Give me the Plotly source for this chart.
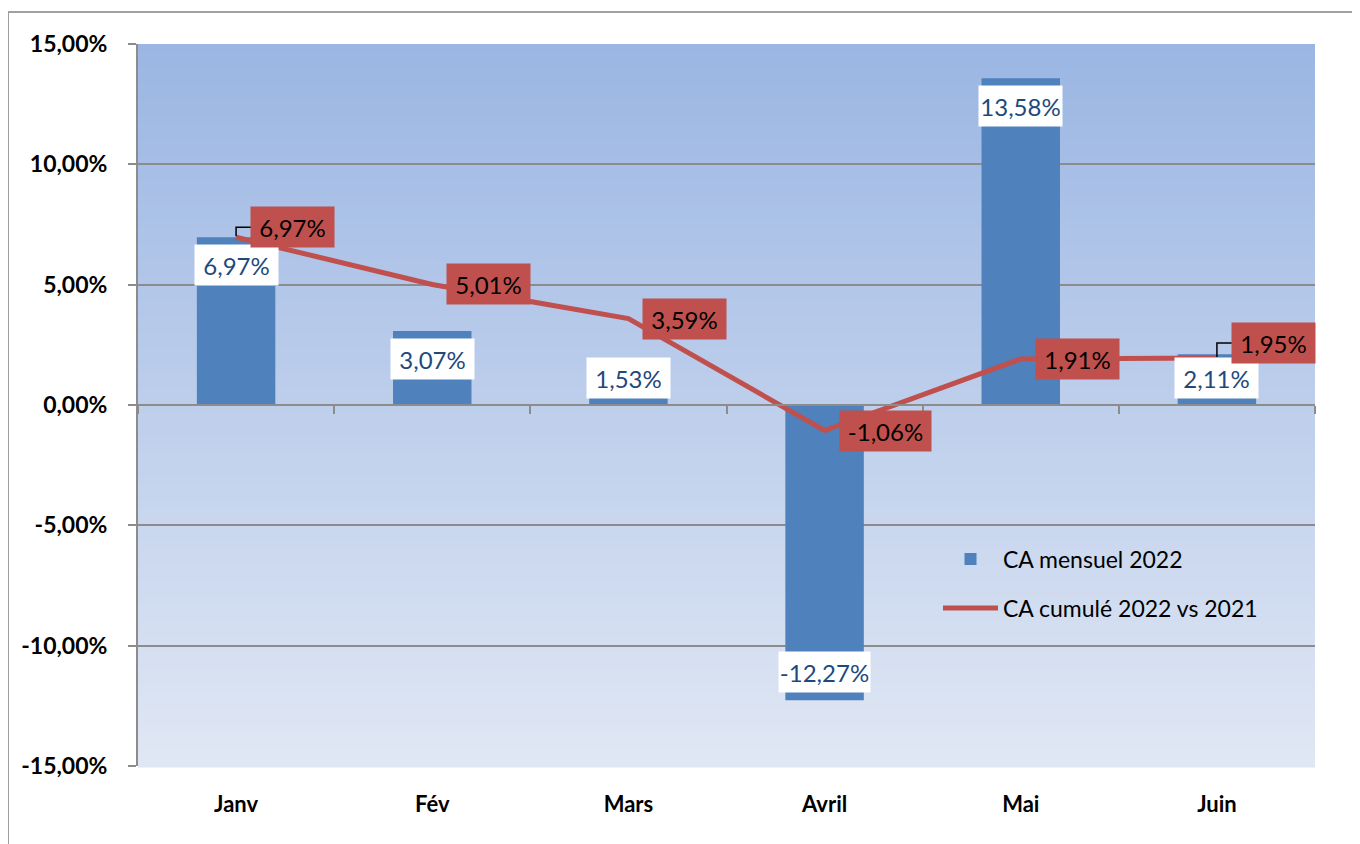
import plotly.graph_objects as go

# ---------------- data ----------------
months = ["Janv", "Fév", "Mars", "Avril", "Mai", "Juin"]
ca_mensuel_2022 = [0.0697, 0.0307, 0.0153, -0.1227, 0.1358, 0.0211]
ca_cumule_2022_vs_2021 = [0.0697, 0.0501, 0.0359, -0.0106, 0.0191, 0.0195]
y_ticks = [-0.15, -0.10, -0.05, 0.0, 0.05, 0.10, 0.15]

# ---------------- style ----------------
W, H = 1360, 844
OFF = 8  # page body margin
ML, MT = 138 - OFF, 44 - OFF
PR, PB = 1315 - OFF, 766 - OFF          # right / bottom edge of plot area in figure px
MR, MB = W - PR, H - PB
PW, PH = W - ML - MR, H - MT - MB
YMIN, YMAX = -0.15, 0.15
PX_PER_UNIT = PH / (YMAX - YMIN)

BAR_COLOR = "#4F81BD"
LINE_COLOR = "#C0504D"
GRID_COLOR = "#8C8C8C"
BAR_TEXT = "#1F497D"
FONT = "Lato"
line_label_dy = [10, 0, 0, 0, 0, 15]  # upward pixel nudges for cumulated labels


def fmt(v):
    return f"{v*100:.2f}%".replace(".", ",")


fig = go.Figure()

fig.add_trace(go.Bar(
    x=months, y=ca_mensuel_2022, name="CA mensuel 2022",
    marker=dict(color=BAR_COLOR, line=dict(width=0)),
    width=0.4, legend="legend", hoverinfo="skip",
))
fig.add_trace(go.Scatter(
    x=months, y=ca_cumule_2022_vs_2021, name="CA cumulé 2022 vs 2021",
    mode="lines", line=dict(color=LINE_COLOR, width=5),
    xaxis="x2", legend="legend2", hoverinfo="skip",
))

# gradient background (plot area)
top = (155, 182, 227)
bot = (224, 231, 244)
N = 90
shapes = []
for k in range(N):
    t = k / (N - 1)
    c = tuple(round(top[j] + (bot[j] - top[j]) * t) for j in range(3))
    shapes.append(dict(
        type="rect", xref="paper", yref="paper",
        x0=0, x1=1, y1=1 - k / N, y0=1 - (k + 1) / N - 0.002,
        fillcolor=f"rgb{c}", line=dict(width=0), layer="below",
    ))

# outer chart border
shapes.append(dict(
    type="rect", xref="paper", yref="paper",
    x0=(8 - OFF - ML) / PW, x1=1.2, y0=-0.3, y1=1 + (MT - (12 - OFF)) / PH,
    line=dict(color="#A0A0A0", width=2), fillcolor="rgba(0,0,0,0)", layer="below",
))

annotations = []
# bar labels
for i, v in enumerate(ca_mensuel_2022):
    txt = fmt(v)
    w = 91 if v < 0 else 83
    if v >= 0:
        if v * PX_PER_UNIT < 28 + 20 + 8:
            y, ys = 0, 27.5
        else:
            y, ys = v, -28
    else:
        if -v * PX_PER_UNIT < 28 + 20 + 8:
            y, ys = 0, -27.5
        else:
            y, ys = v, 28
    annotations.append(dict(
        x=i, y=y, xref="x", yref="y", text=txt, showarrow=False,
        yshift=ys, bgcolor="white", width=w, height=40, borderpad=0,
        font=dict(family=FONT, size=24, color=BAR_TEXT),
    ))

# line labels
for i, v in enumerate(ca_cumule_2022_vs_2021):
    txt = fmt(v)
    w = 91 if v < 0 else 83
    annotations.append(dict(
        x=i, y=v, xref="x2", yref="y", text=txt, showarrow=False,
        xshift=15 + w / 2, yshift=line_label_dy[i],
        bgcolor=LINE_COLOR, width=w, height=40, borderpad=0,
        font=dict(family=FONT, size=24, color="black"),
    ))
    if line_label_dy[i]:
        d = line_label_dy[i]
        shapes.append(dict(
            type="path", xref="x2", yref="y",
            xsizemode="pixel", ysizemode="pixel", xanchor=i, yanchor=v,
            path=f"M0,1 L0,{d} L15,{d}",
            line=dict(color="black", width=1.5),
        ))

fig.update_layout(
    width=W, height=H,
    margin=dict(l=ML, r=MR, t=MT, b=MB, autoexpand=False),
    paper_bgcolor="white", plot_bgcolor="rgba(0,0,0,0)",
    font=dict(family=FONT, color="black"),
    bargap=0.6,
    showlegend=True,
    xaxis=dict(
        type="category", categoryarray=months, range=[-0.5, 5.5],
        showline=False, showgrid=False, ticks="", zeroline=False,
        tickfont=dict(family=FONT, size=22, color="black", weight="bold"),
        ticklabelstandoff=23,
    ),
    xaxis2=dict(
        type="category", categoryarray=months, range=[-0.5, 5.5],
        overlaying="x", anchor="free", position=0.5, side="bottom",
        showticklabels=False, showgrid=False, zeroline=False,
        showline=True, linecolor=GRID_COLOR, linewidth=2,
        ticks="outside", tickson="boundaries", ticklen=8,
        tickcolor=GRID_COLOR, tickwidth=2,
    ),
    yaxis=dict(
        range=[YMIN, YMAX], tickvals=y_ticks, ticktext=[fmt(v) for v in y_ticks],
        showgrid=True, gridcolor=GRID_COLOR, gridwidth=2, zeroline=False,
        showline=True, linecolor=GRID_COLOR, linewidth=2,
        ticks="outside", ticklen=8, tickcolor=GRID_COLOR, tickwidth=2,
        tickfont=dict(family=FONT, size=23, color="black", weight="bold"),
        ticklabelstandoff=16,
    ),
    legend=dict(
        x=(938 - OFF - ML) / PW, y=1 - (559 - 44) / PH, xanchor="left", yanchor="middle",
        bgcolor="rgba(0,0,0,0)", font=dict(family=FONT, size=23, color="black"),
        itemwidth=55,
    ),
    legend2=dict(
        x=(938 - OFF - ML) / PW, y=1 - (608 - 44) / PH, xanchor="left", yanchor="middle",
        bgcolor="rgba(0,0,0,0)", font=dict(family=FONT, size=23, color="black"),
        itemwidth=55,
    ),
    shapes=shapes,
    annotations=annotations,
)

fig.write_html("out.html")
